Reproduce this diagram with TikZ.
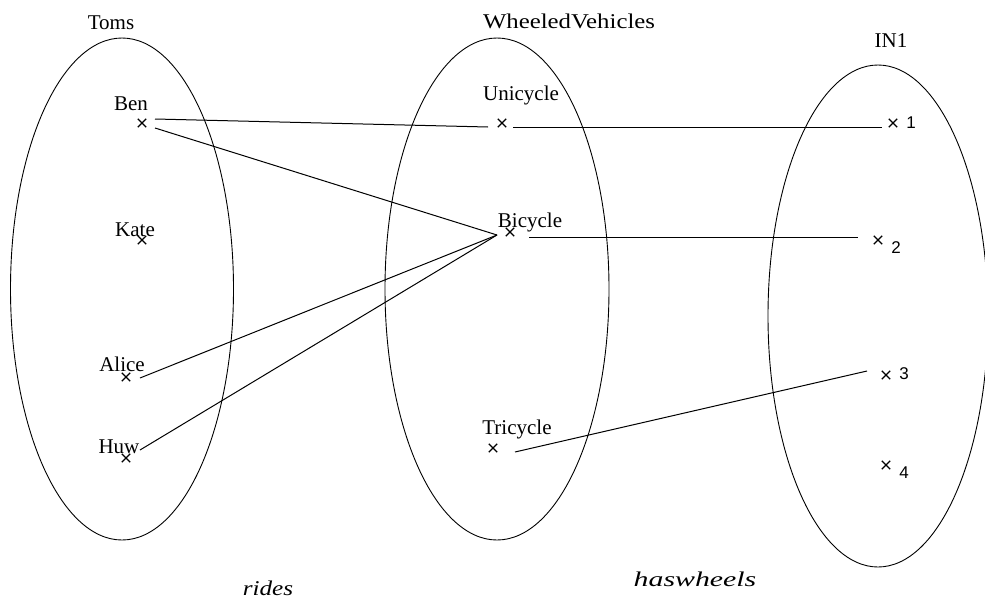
\documentclass[tikz,border=0pt]{standalone}
\usepackage{fontspec}
\setmainfont{Liberation Serif}
\setsansfont{Liberation Sans}
\usepackage{graphicx}
\usetikzlibrary{shapes.geometric,shapes.misc}
\begin{document}
\begin{tikzpicture}[x=1pt,y=-1pt,
  setshape/.style={draw,ellipse,line width=0.9pt,inner sep=0pt},
  xmark/.style={draw,cross out,line width=1.3pt,minimum size=7pt,inner sep=0pt},
  lbl/.style={anchor=base,inner sep=0pt,font=\fontsize{21}{25}\selectfont},
  num/.style={anchor=base,inner sep=0pt,font=\fontsize{17}{20}\sffamily},
  rel/.style={anchor=base,inner sep=0pt,font=\fontsize{21}{25}\itshape},
  conn/.style={line width=1pt}]
\useasboundingbox (0,0) rectangle (985,600);
% sets
\node[setshape,minimum width=223pt,minimum height=502pt] (Toms) at (122,289) {};
\node[setshape,minimum width=224pt,minimum height=502pt] (WV) at (497,289) {};
\node[setshape,minimum width=220pt,minimum height=502pt] (IN) at (878,316) {};
\node[lbl] (tToms) at (111,29) {Toms};
\node[lbl] (tWV) at (569,28) {\scalebox{1.18}[1]{WheeledVehicles}};
\node[lbl] (tIN) at (891,47) {IN1};
% elements
\node[xmark] (ben) at (142,123) {};
\node[xmark] (kate) at (142,240) {};
\node[xmark] (alice) at (126,377) {};
\node[xmark] (huw) at (126,458) {};
\node[xmark] (uni) at (502,123) {};
\node[xmark] (bi) at (510,232) {};
\node[xmark] (tri) at (493,448) {};
\node[xmark] (n1) at (893,123) {};
\node[xmark] (n2) at (878,240) {};
\node[xmark] (n3) at (886,375) {};
\node[xmark] (n4) at (886,465) {};
\node[lbl] (tben) at (131,110) {Ben};
\node[lbl] (tkate) at (135,236) {Kate};
\node[lbl] (talice) at (122,371) {Alice};
\node[lbl] (thuw) at (119,453) {Huw};
\node[lbl] (tuni) at (521,100) {Unicycle};
\node[lbl] (tbi) at (530,227) {Bicycle};
\node[lbl] (ttri) at (517,434) {Tricycle};
\node[num] (t1) at (911,128) {1};
\node[num] (t2) at (896,253) {2};
\node[num] (t3) at (904,379) {3};
\node[num] (t4) at (904,478) {4};
\node[rel] (rides) at (268,595) {\scalebox{1.2}[1]{rides}};
\node[rel] (hw) at (695,586) {\scalebox{1.42}[1]{haswheels}};
% connector end points
\coordinate (benA) at (155,119);
\coordinate (benB) at (155,128);
\coordinate (uniL) at (488,127);
\coordinate (uniR) at (513,127);
\coordinate (biL) at (497,235);
\coordinate (biR) at (529,237);
\coordinate (aliceR) at (140,378);
\coordinate (huwR) at (140,450);
\coordinate (triR) at (515,452);
\coordinate (n1L) at (882,127);
\coordinate (n2L) at (858,237);
\coordinate (n3L) at (867,371);
% rides
\draw[conn] (benA) -- (uniL);
\draw[conn] (benB) -- (biL);
\draw[conn] (aliceR) -- (biL);
\draw[conn] (huwR) -- (biL);
% haswheels
\draw[conn] (uniR) -- (n1L);
\draw[conn] (biR) -- (n2L);
\draw[conn] (triR) -- (n3L);
\end{tikzpicture}
\end{document}
